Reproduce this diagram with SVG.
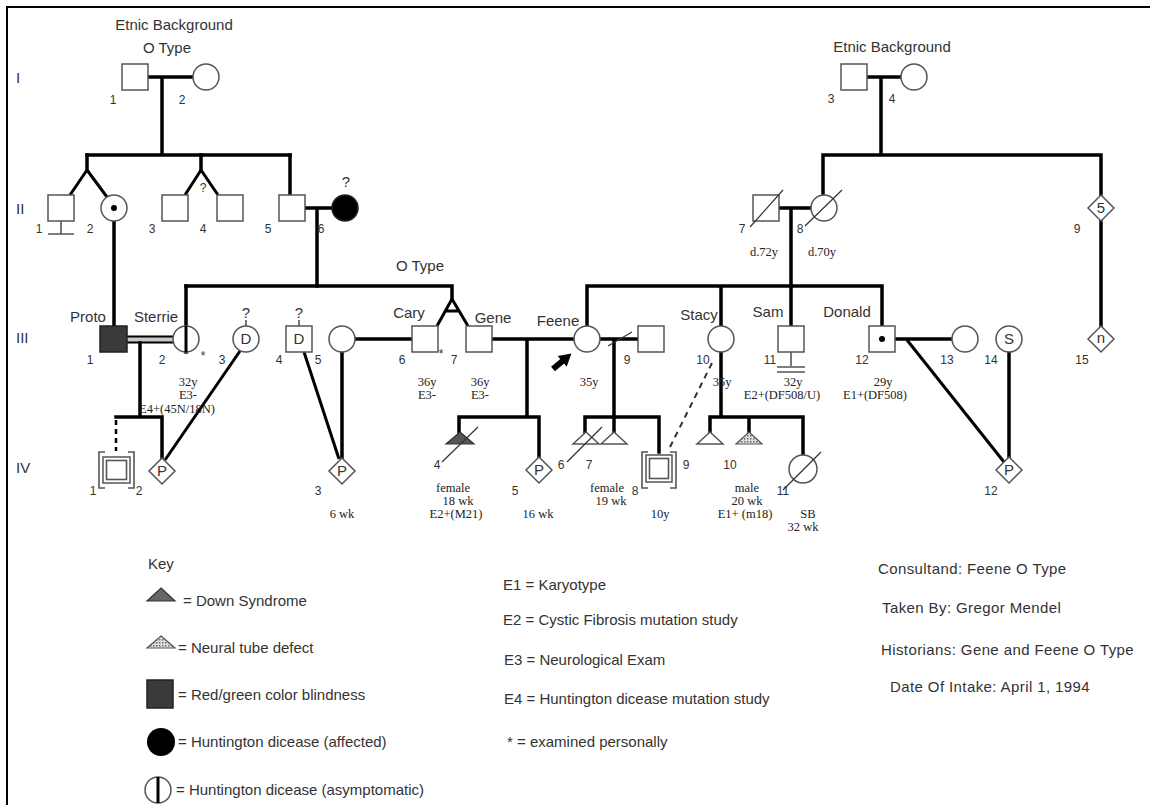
<svg xmlns="http://www.w3.org/2000/svg" width="1150" height="805" viewBox="0 0 1150 805">
<style>
.ln{stroke:#000;stroke-width:3.5;fill:none;stroke-linecap:square}
.dg{stroke:#000;stroke-width:3;fill:none}
.sym{fill:#fff;stroke:#555;stroke-width:1.5}
.thin{stroke:#333;stroke-width:1.2;fill:none}
.gr{stroke:#555;stroke-width:1.6;fill:none}
.dash{stroke:#000;stroke-width:2.5;fill:none;stroke-dasharray:5 4}
.dash2{stroke:#333;stroke-width:2;fill:none;stroke-dasharray:6 5}
text{fill:#333}
.t{font-family:"Liberation Sans",Arial,sans-serif;font-size:15px}
.w{letter-spacing:0.4px}
.n{font-family:"Liberation Sans",Arial,sans-serif;font-size:12px;text-anchor:middle}
.c{text-anchor:middle}
.s{font-family:"Liberation Serif","Times New Roman",serif;font-size:12.5px;text-anchor:middle;fill:#222}
</style>
<defs>
<pattern id="dots" width="3" height="3" patternUnits="userSpaceOnUse"><rect width="3" height="3" fill="#e0e0e0"/><rect width="1.5" height="1.5" fill="#666"/></pattern>
</defs>
<rect width="1150" height="805" fill="#fff"/>
<g id="frame"><path d="M7 805 V7 H1150" stroke="#000" stroke-width="2" fill="none"/></g>

<g id="gen-labels" class="t">
<text x="16" y="83">I</text><text x="16" y="214">II</text><text x="16" y="343">III</text><text x="16" y="473">IV</text>
</g>

<g id="connectors">
<path class="ln" d="M148 77H193M162 77V155M87 155H290"/>
<path class="ln" d="M87 155V170"/><path class="dg" d="M87 170L70 195M87 170L107 197"/>
<path class="ln" d="M201 155V170"/><path class="dg" d="M201 170L185 195M201 170L218 195"/>
<path class="ln" d="M290 155V195M305 208H332M317 208V286"/>
<path class="ln" d="M114 222V326"/>
<path class="ln" d="M867 77H901M881 77V155M823 155H1101M823 155V195M1101 155V195M1101 221V326"/>
<path class="ln" d="M779 208H811M791 208V286"/>
<path class="ln" d="M186 286H452M452 286V299"/>
<path class="dg" d="M452 299L437 326M452 299L468 326M445 311H460"/>
<path class="ln" d="M186 286V352"/>
<rect x="127" y="336" width="46" height="7" fill="#c8c8c8"/>
<path stroke="#000" stroke-width="2" d="M127 336.5H173M127 342.5H173"/>
<path class="ln" d="M140 343V417M116 417H162M162 417V458"/>
<path class="dash" d="M116 420V451"/>
<path class="dg" d="M240 351L165 460"/>
<path class="ln" d="M355 339H412M342 352V458"/>
<path class="dg" d="M304 352L339 459"/>
<path class="gr" d="M246 320V326M299 320V326"/>
<path class="ln" d="M492 339H574M527 339V417M459 417H539M459 417V432M539 417V457"/>
<path class="ln" d="M600 339H638M614 339V432M585 417H659M585 417V432M659 417V452"/>
<path class="thin" d="M608 346L632 332"/>
<path class="ln" d="M587 286H882M587 286V326M721 286V326M791 286V326M882 286V326"/>
<path class="ln" d="M721 352V417M710 417H803M710 417V432M749 417V432M803 417V455"/>
<path class="dash2" d="M712 363L670 447"/>
<path class="gr" d="M791 352V366M777 367H805M777 372H805"/>
<path class="ln" d="M895 339H952"/>
<path class="dg" d="M907 340L1004 462"/>
<path class="ln" d="M1009 352V457"/>
<path class="gr" d="M61 221V234M48 234H74"/>
</g>

<g id="I-1"><rect class="sym" x="122" y="64" width="26" height="26"/><text class="n" x="113" y="104">1</text></g>
<g id="I-2"><circle class="sym" cx="206" cy="77" r="13"/><text class="n" x="182" y="104">2</text></g>
<g id="I-3"><rect class="sym" x="841" y="64" width="26" height="26"/><text class="n" x="831" y="103">3</text></g>
<g id="I-4"><circle class="sym" cx="914" cy="77" r="13"/><text class="n" x="892" y="103">4</text></g>
<g id="eb-left" class="t"><text class="c" x="174" y="30">Etnic Background</text><text class="c" x="167" y="53">O Type</text></g>
<g id="eb-right" class="t"><text class="c" x="892" y="52">Etnic Background</text></g>

<g id="II-1"><rect class="sym" x="48" y="195" width="26" height="26"/><text class="n" x="39" y="233">1</text></g>
<g id="II-2"><circle class="sym" cx="114" cy="208" r="13"/><circle cx="114" cy="208" r="3" fill="#000"/><text class="n" x="90" y="233">2</text></g>
<g id="II-3"><rect class="sym" x="162" y="195" width="26" height="26"/><text class="n" x="152" y="233">3</text></g>
<g id="II-4"><rect class="sym" x="217" y="195" width="26" height="26"/><text class="n" x="203" y="233">4</text><text class="n" x="203" y="192">?</text></g>
<g id="II-5"><rect class="sym" x="279" y="195" width="26" height="26"/><text class="n" x="268" y="233">5</text></g>
<g id="II-6"><circle cx="345" cy="208" r="13" fill="#000" stroke="#222" stroke-width="1.5"/><text class="n" x="321" y="233">6</text><text class="t c" x="346" y="187">?</text></g>
<g id="II-7"><rect class="sym" x="753" y="195" width="26" height="26"/><path class="thin" d="M750 227L783 190"/><text class="n" x="742" y="233">7</text><text class="s" x="764" y="256">d.72y</text></g>
<g id="II-8"><circle class="sym" cx="824" cy="208" r="13"/><path class="thin" d="M805 226L842 190"/><text class="n" x="800" y="233">8</text><text class="s" x="822" y="256">d.70y</text></g>
<g id="II-9"><polygon class="sym" points="1101,195 1114,208 1101,221 1088,208"/><text class="t c" x="1101" y="213">5</text><text class="n" x="1077" y="233">9</text></g>

<g id="III-1"><rect x="100" y="326" width="27" height="26" fill="#3a3a3a" stroke="#222" stroke-width="1.5"/><text class="t c" x="88" y="322">Proto</text><text class="n" x="90" y="364">1</text></g>
<g id="III-2"><circle class="sym" cx="186" cy="339" r="13"/><path stroke="#000" stroke-width="3" d="M186 326V352"/><text class="t c" x="156" y="322">Sterrie</text><text class="n" x="162" y="364">2</text><text class="n" x="203" y="360">*</text><text class="s" x="188" y="386">32y</text><text class="s" x="188" y="399">E3-</text><text class="s" x="177" y="413">E4+(45N/18N)</text></g>
<g id="III-3"><circle class="sym" cx="246" cy="339" r="13"/><text class="t c" x="246" y="344">D</text><text class="t c" x="246" y="318">?</text><text class="n" x="222" y="364">3</text></g>
<g id="III-4"><rect class="sym" x="286" y="326" width="26" height="26"/><text class="t c" x="299" y="344">D</text><text class="t c" x="299" y="318">?</text><text class="n" x="279" y="364">4</text></g>
<g id="III-5"><circle class="sym" cx="342" cy="339" r="13"/><text class="n" x="318" y="364">5</text></g>
<g id="III-6"><rect class="sym" x="412" y="326" width="26" height="26"/><text class="t c" x="409" y="318">Cary</text><text class="n" x="402" y="364">6</text><text class="n" x="441" y="358">*</text><text class="s" x="427" y="386">36y</text><text class="s" x="427" y="399">E3-</text></g>
<g id="III-7"><rect class="sym" x="466" y="326" width="26" height="26"/><text class="t c" x="493" y="323">Gene</text><text class="n" x="454" y="364">7</text><text class="s" x="480" y="386">36y</text><text class="s" x="480" y="399">E3-</text></g>
<text class="t c" x="420" y="271">O Type</text>
<g id="III-8"><circle class="sym" cx="587" cy="339" r="13"/><text class="t c" x="558" y="326">Feene</text><text class="s" x="589" y="386">35y</text>
<path transform="translate(553 369) rotate(-40)" d="M0 -3H12V-7L24 0L12 7V3H0Z" fill="#000"/></g>
<g id="III-9"><rect class="sym" x="638" y="326" width="26" height="26"/><text class="n" x="627" y="364">9</text></g>
<g id="III-10"><circle class="sym" cx="721" cy="339" r="13"/><text class="t c" x="699" y="320">Stacy</text><text class="n" x="703" y="364">10</text><text class="s" x="722" y="386">35y</text></g>
<g id="III-11"><rect class="sym" x="778" y="326" width="26" height="26"/><text class="t c" x="768" y="317">Sam</text><text class="n" x="770" y="364">11</text><text class="s" x="793" y="386">32y</text><text class="s" x="782" y="399">E2+(DF508/U)</text></g>
<g id="III-12"><rect class="sym" x="869" y="326" width="26" height="26"/><circle cx="882" cy="339" r="3" fill="#000"/><text class="t c" x="847" y="317">Donald</text><text class="n" x="862" y="364">12</text><text class="s" x="883" y="386">29y</text><text class="s" x="875" y="399">E1+(DF508)</text></g>
<g id="III-13"><circle class="sym" cx="965" cy="339" r="13"/><text class="n" x="947" y="364">13</text></g>
<g id="III-14"><circle class="sym" cx="1009" cy="339" r="13"/><text class="t c" x="1009" y="344">S</text><text class="n" x="991" y="364">14</text></g>
<g id="III-15"><polygon class="sym" points="1101,326 1114,339 1101,352 1088,339"/><text class="t c" x="1101" y="343">n</text><text class="n" x="1082" y="364">15</text></g>

<g id="IV-1-2">
<rect class="sym" x="103" y="457" width="27" height="26"/><rect class="gr" x="106.5" y="460.5" width="20" height="19"/>
<path class="gr" d="M105 452H99V488H105M128 452H134V488H128"/>
<text class="n" x="93" y="495">1</text><text class="n" x="139" y="495">2</text></g>
<g id="IV-2"><polygon class="sym" points="162,458 175,471 162,484 149,471"/><text class="t c" x="162" y="476">P</text></g>
<g id="IV-3"><polygon class="sym" points="342,458 355,471 342,484 329,471"/><text class="t c" x="342" y="476">P</text><text class="n" x="318" y="495">3</text><text class="s" x="342" y="518">6 wk</text></g>
<g id="IV-4"><polygon points="460,432 474,444 446,444" fill="#555" stroke="#333" stroke-width="1.2"/><path class="thin" d="M442 462L478 427"/><text class="n" x="437" y="469">4</text><text class="s" x="453" y="492">female</text><text class="s" x="458" y="505">18 wk</text><text class="s" x="456" y="518">E2+(M21)</text></g>
<g id="IV-5"><polygon class="sym" points="539,457 552,470 539,483 526,470"/><text class="t c" x="539" y="475">P</text><text class="n" x="515" y="495">5</text><text class="s" x="538" y="518">16 wk</text></g>
<g id="IV-6"><polygon class="sym" points="586,432 599,444 573,444"/><path class="thin" d="M567 462L602 427"/><text class="n" x="561" y="469">6</text></g>
<g id="IV-7"><polygon class="sym" points="614,432 627,444 601,444"/><text class="n" x="589" y="469">7</text><text class="s" x="607" y="492">female</text><text class="s" x="611" y="505">19 wk</text></g>
<g id="IV-8-9">
<rect class="sym" x="646" y="455" width="26" height="27"/><rect class="gr" x="649.5" y="458.5" width="19" height="20"/>
<path class="gr" d="M648 452H642V488H648M670 452H676V488H670"/>
<text class="n" x="635" y="495">8</text><text class="n" x="686" y="469">9</text><text class="s" x="660" y="518">10y</text></g>
<g id="IV-10"><polygon class="sym" points="710,432 723,444 697,444"/><polygon points="749,432 762,444 736,444" fill="url(#dots)" stroke="#555" stroke-width="1.2"/><text class="n" x="730" y="469">10</text><text class="s" x="747" y="492">male</text><text class="s" x="747" y="505">20 wk</text><text class="s" x="745" y="518">E1+ (m18)</text></g>
<g id="IV-11"><circle class="sym" cx="803" cy="469" r="14"/><path class="thin" d="M783 490L821 452"/><text class="n" x="783" y="495">11</text><text class="s" x="808" y="518">SB</text><text class="s" x="803" y="531">32 wk</text></g>
<g id="IV-12"><polygon class="sym" points="1009,457 1022,470 1009,483 996,470"/><text class="t c" x="1009" y="475">P</text><text class="n" x="991" y="495">12</text></g>

<g id="key" class="t">
<text x="148" y="569">Key</text>
<polygon points="161,588 175,601 147,601" fill="#666" stroke="#333" stroke-width="1.2"/><text x="183" y="606">= Down Syndrome</text>
<polygon points="161,636 175,648 147,648" fill="url(#dots)" stroke="#555" stroke-width="1.2"/><text x="178" y="653">= Neural tube defect</text>
<rect x="147" y="680" width="26" height="28" fill="#3a3a3a" stroke="#222" stroke-width="1.5"/><text x="178" y="700">= Red/green color blindness</text>
<circle cx="161" cy="742" r="14" fill="#000"/><text x="178" y="747">= Huntington dicease (affected)</text>
<circle class="sym" cx="158" cy="790" r="13"/><path stroke="#000" stroke-width="3" d="M158 777V803"/><text x="176" y="795">= Huntington dicease (asymptomatic)</text>
</g>
<g id="exams" class="t">
<text x="503" y="590">E1 = Karyotype</text>
<text x="503" y="625">E2 = Cystic Fibrosis mutation study</text>
<text x="504" y="665">E3 = Neurological Exam</text>
<text x="504" y="704">E4 = Huntington dicease mutation study</text>
<text x="507" y="747">* = examined personally</text>
</g>
<g id="info" class="t w">
<text x="878" y="574">Consultand: Feene O Type</text>
<text x="882" y="613">Taken By: Gregor Mendel</text>
<text x="881" y="655">Historians: Gene and Feene O Type</text>
<text x="890" y="692">Date Of Intake: April 1, 1994</text>
</g>
</svg>
